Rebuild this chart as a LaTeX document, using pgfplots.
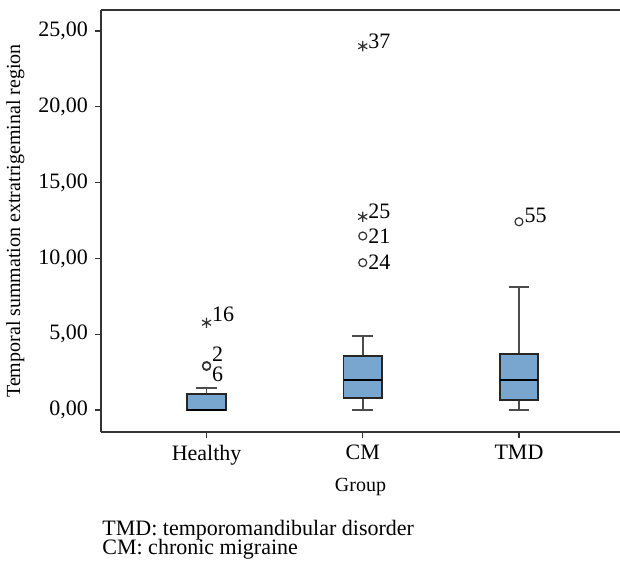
\documentclass[border=0pt]{standalone}
\usepackage{fontspec}
\setmainfont{Liberation Serif}
\usepackage{pgfplots}
\pgfplotsset{compat=1.18}
\usepgfplotslibrary{statistics}
\definecolor{boxblue}{HTML}{79A6CF}
\definecolor{frame}{HTML}{333333}
\newcommand\f{\fontsize{11}{13}\selectfont}

\pgfplotsset{
  bx/.style={
    draw=black!85, line width=0.9pt,
    boxplot/draw direction=y,
    boxplot prepared={box extend=0.246, whisker extend=0.133,
      every box/.style={draw=black!85, fill=boxblue, line width=0.9pt},
      every whisker/.style={draw=black!70, line width=0.75pt},
      every median/.style={draw=black, line width=1.1pt}}},
  outl/.style={only marks, black!80, mark options={line width=0.6pt},
    nodes near coords, point meta=explicit symbolic,
    every node near coord/.style={anchor=west, font=\f, text=black, inner sep=2.5pt, yshift=#1}},
}

\begin{document}
\begin{tikzpicture}
\useasboundingbox (-50.5pt,-68pt) rectangle (259.5pt,216pt);
\begin{axis}[
  at={(0,0)}, anchor=south west,
  scale only axis,
  width=259.5pt, height=211pt,
  xmin=0.324, xmax=3.647,
  ymin=-1.45, ymax=26.39,
  axis x line*=box, axis y line*=left,
  axis line style={draw=frame, line width=0.75pt},
  xtick={1,2,3}, xticklabels={Healthy, CM, TMD},
  xtick pos=left,
  ytick={0,5,...,25},
  tick align=outside,
  major tick length=3pt,
  every tick/.style={draw=frame, line width=0.6pt},
  tick label style={font=\f},
  yticklabel style={/pgf/number format/.cd, fixed, fixed zerofill, precision=2, use comma, assume math mode=true},
  xlabel={Group},
  ylabel={Temporal summation extratrigeminal region},
  label style={font=\f},
  every axis x label/.style={at={(axis description cs:0.5,-0.13)}, anchor=center},
  every axis y label/.style={at={(axis description cs:-0.165,0.5)}, rotate=90, anchor=center},
  clip=false,
]
% boxes
\addplot[bx, boxplot prepared={draw position=1, lower whisker=0, lower quartile=0,
  median=0, upper quartile=1.06, upper whisker=1.45}] coordinates {};
\addplot[bx, boxplot prepared={draw position=2, lower whisker=0, lower quartile=0.77,
  median=1.98, upper quartile=3.58, upper whisker=4.88}] coordinates {};
\addplot[bx, boxplot prepared={draw position=3, lower whisker=0, lower quartile=0.66,
  median=1.98, upper quartile=3.67, upper whisker=8.11}] coordinates {};

% extreme values
\addplot[outl=4pt, mark=asterisk, mark size=2.6pt] table[meta=lab] {
x y lab
1 5.76 16
};
\addplot[outl=2.5pt, mark=asterisk, mark size=2.6pt] table[meta=lab] {
x y lab
2 24.0 37
2 12.75 25
};
% outliers
\addplot[outl=5.5pt, mark=o, mark size=2pt] table[meta=lab] {
x y lab
1 2.93 2
};
\addplot[outl=-4pt, mark=o, mark size=2pt] table[meta=lab] {
x y lab
1 2.88 6
};
\addplot[outl=0pt, mark=o, mark size=2pt] table[meta=lab] {
x y lab
2 11.48 21
2 9.72 24
};
\addplot[outl=3pt, mark=o, mark size=2pt] table[meta=lab] {
x y lab
3 12.42 55
};
\end{axis}
\node[anchor=base west, font=\f, inner sep=0pt] at (0.5pt,-51.5pt) {TMD: temporomandibular disorder};
\node[anchor=base west, font=\f, inner sep=0pt] at (0.5pt,-61pt) {CM: chronic migraine};
\end{tikzpicture}
\end{document}
